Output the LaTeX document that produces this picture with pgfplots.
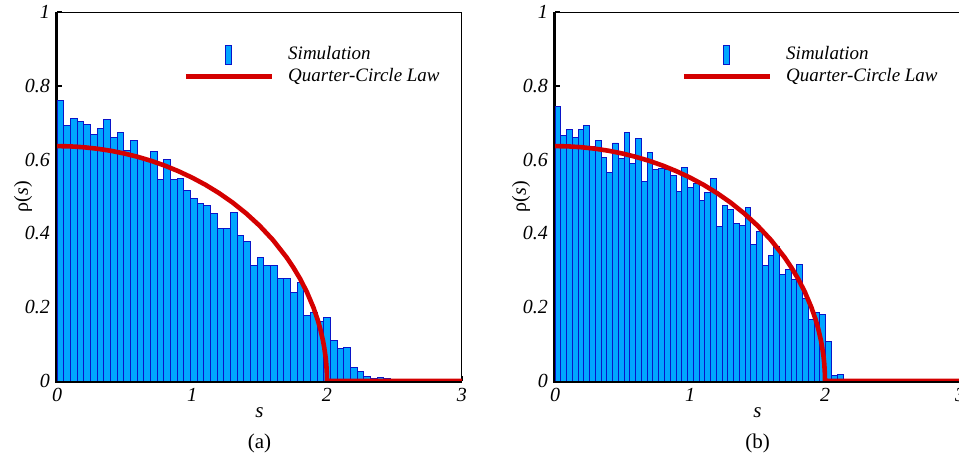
\documentclass[border=0pt]{standalone}
\usepackage{fontspec}
\setmainfont{Liberation Serif}
\usepackage{pgfplots}
\usepackage{pgfplotstable}
\pgfplotsset{compat=1.18}
\definecolor{barfill}{HTML}{00A6FF}
\definecolor{baredge}{HTML}{0A14C8}
\definecolor{lawred}{HTML}{D40000}

% histogram (a): left bin edges, density; last row closes the interval
\pgfplotstableread{
s rho
0.0000 0.760
0.0494 0.692
0.0988 0.711
0.1482 0.703
0.1976 0.695
0.2470 0.667
0.2964 0.685
0.3458 0.708
0.3952 0.661
0.4446 0.674
0.4940 0.625
0.5434 0.653
0.5928 0.605
0.6422 0.600
0.6916 0.622
0.7410 0.547
0.7904 0.601
0.8398 0.545
0.8892 0.548
0.9386 0.517
0.9880 0.495
1.0374 0.482
1.0868 0.476
1.1362 0.453
1.1856 0.414
1.2350 0.413
1.2844 0.457
1.3338 0.395
1.3832 0.378
1.4326 0.312
1.4820 0.335
1.5314 0.312
1.5808 0.314
1.6302 0.278
1.6796 0.278
1.7290 0.240
1.7784 0.268
1.8278 0.177
1.8772 0.186
1.9266 0.161
1.9760 0.173
2.0254 0.110
2.0748 0.088
2.1242 0.091
2.1736 0.036
2.2230 0.026
2.2724 0.012
2.3218 0.008
2.3712 0.010
2.4206 0.008
2.4700 0.008
}\histA

% histogram (b)
\pgfplotstableread{
s rho
0.0000 0.744
0.0427 0.665
0.0853 0.682
0.1280 0.660
0.1706 0.682
0.2133 0.693
0.2560 0.635
0.2986 0.652
0.3413 0.607
0.3839 0.566
0.4266 0.645
0.4693 0.604
0.5119 0.674
0.5546 0.590
0.5972 0.656
0.6399 0.541
0.6826 0.619
0.7252 0.574
0.7679 0.577
0.8105 0.572
0.8532 0.558
0.8959 0.514
0.9385 0.578
0.9812 0.525
1.0238 0.536
1.0665 0.488
1.1092 0.512
1.1518 0.548
1.1945 0.420
1.2371 0.475
1.2798 0.464
1.3225 0.428
1.3651 0.422
1.4078 0.471
1.4504 0.371
1.4931 0.404
1.5358 0.313
1.5784 0.339
1.6211 0.364
1.6637 0.288
1.7064 0.301
1.7491 0.275
1.7917 0.316
1.8344 0.224
1.8770 0.167
1.9197 0.185
1.9624 0.180
2.0050 0.108
2.0477 0.014
2.0903 0.018
2.1330 0.018
}\histB

% quarter-circle law, tabulated
\pgfplotstableread{
s rho
0.00 0.6366
0.10 0.6358
0.20 0.6334
0.30 0.6294
0.40 0.6238
0.50 0.6164
0.60 0.6073
0.70 0.5964
0.80 0.5835
0.90 0.5685
1.00 0.5513
1.10 0.5317
1.20 0.5093
1.30 0.4838
1.40 0.4546
1.50 0.4211
1.60 0.3820
1.70 0.3354
1.75 0.3082
1.80 0.2775
1.85 0.2419
1.90 0.1988
1.93 0.1670
1.95 0.1415
1.97 0.1099
1.98 0.0898
1.99 0.0636
1.995 0.0450
1.999 0.0201
2.00 0.0000
3.00 0.0000
}\law

\pgfplotsset{
  panel/.style={
    scale only axis, width=202.5pt, height=184.5pt,
    xmin=0, xmax=3, ymin=0, ymax=1,
    xtick={0,1,2,3}, ytick={0,0.2,0.4,0.6,0.8,1},
    xtick pos=left, ytick pos=left,
    tick align=inside, major tick length=2.5pt,
    tick style={black, line width=0.8pt},
    axis line style={line width=0.5pt},
    /pgf/number format/assume math mode=true,
    ticklabel style={font=\fontsize{10}{12}\selectfont\itshape},
    xlabel={\textit{s}}, ylabel={ρ(\textit{s})},
    label style={font=\fontsize{10.5}{12}\selectfont},
    xlabel style={yshift=4pt},
    every axis y label/.style={at={(rel axis cs:0,0.5)}, rotate=90, anchor=center, yshift=17pt},
    legend style={draw=none, fill=none, inner sep=0pt,
      font=\fontsize{9.5}{11}\selectfont\itshape,
      at={(axis cs:0.935,0.913)}, anchor=north west,
      column sep=6pt, row sep=1pt, nodes={inner sep=1pt}},
    legend cell align=left,
  },
  bars/.style={ybar interval, fill=barfill, draw=baredge, line width=0.45pt,
    legend image code/.code={
      \path[draw=none, fill=none] (0pt,0pt) -- (43pt,0pt);
      \draw[fill=barfill, draw=baredge, line width=0.45pt]
        (20pt,-4.75pt) rectangle (23pt,4.75pt);}},
  lawline/.style={lawred, line width=2.3pt,
    legend image code/.code={\draw[lawred, line width=2.3pt] (0pt,0pt) -- (43pt,0pt);}},
}

\begin{document}
\begin{tikzpicture}
\useasboundingbox (0,0) rectangle (479.5pt,228pt);

\begin{axis}[panel, name=A, at={(28.5pt,37.5pt)}]
\addplot[bars] table[x=s, y=rho] {\histA};
\addlegendentry{Simulation}
\addplot[lawline] table[x=s, y=rho] {\law};
\addlegendentry{Quarter-Circle Law}
\end{axis}
\draw[line width=1.1pt] ([xshift=-0.5pt]A.north west) -- ([xshift=-0.5pt,yshift=-0.5pt]A.south west) -- ([yshift=-0.5pt]A.south east);
\node[font=\fontsize{10.5}{12}\selectfont] at ([yshift=-31pt]A.south) {(a)};

\begin{axis}[panel, name=B, at={(277.5pt,37.5pt)}]
\addplot[bars] table[x=s, y=rho] {\histB};
\addlegendentry{Simulation}
\addplot[lawline] table[x=s, y=rho] {\law};
\addlegendentry{Quarter-Circle Law}
\end{axis}
\draw[line width=1.1pt] ([xshift=-0.5pt]B.north west) -- ([xshift=-0.5pt,yshift=-0.5pt]B.south west) -- ([yshift=-0.5pt]B.south east);
\node[font=\fontsize{10.5}{12}\selectfont] at ([yshift=-31pt]B.south) {(b)};
\end{tikzpicture}
\end{document}
